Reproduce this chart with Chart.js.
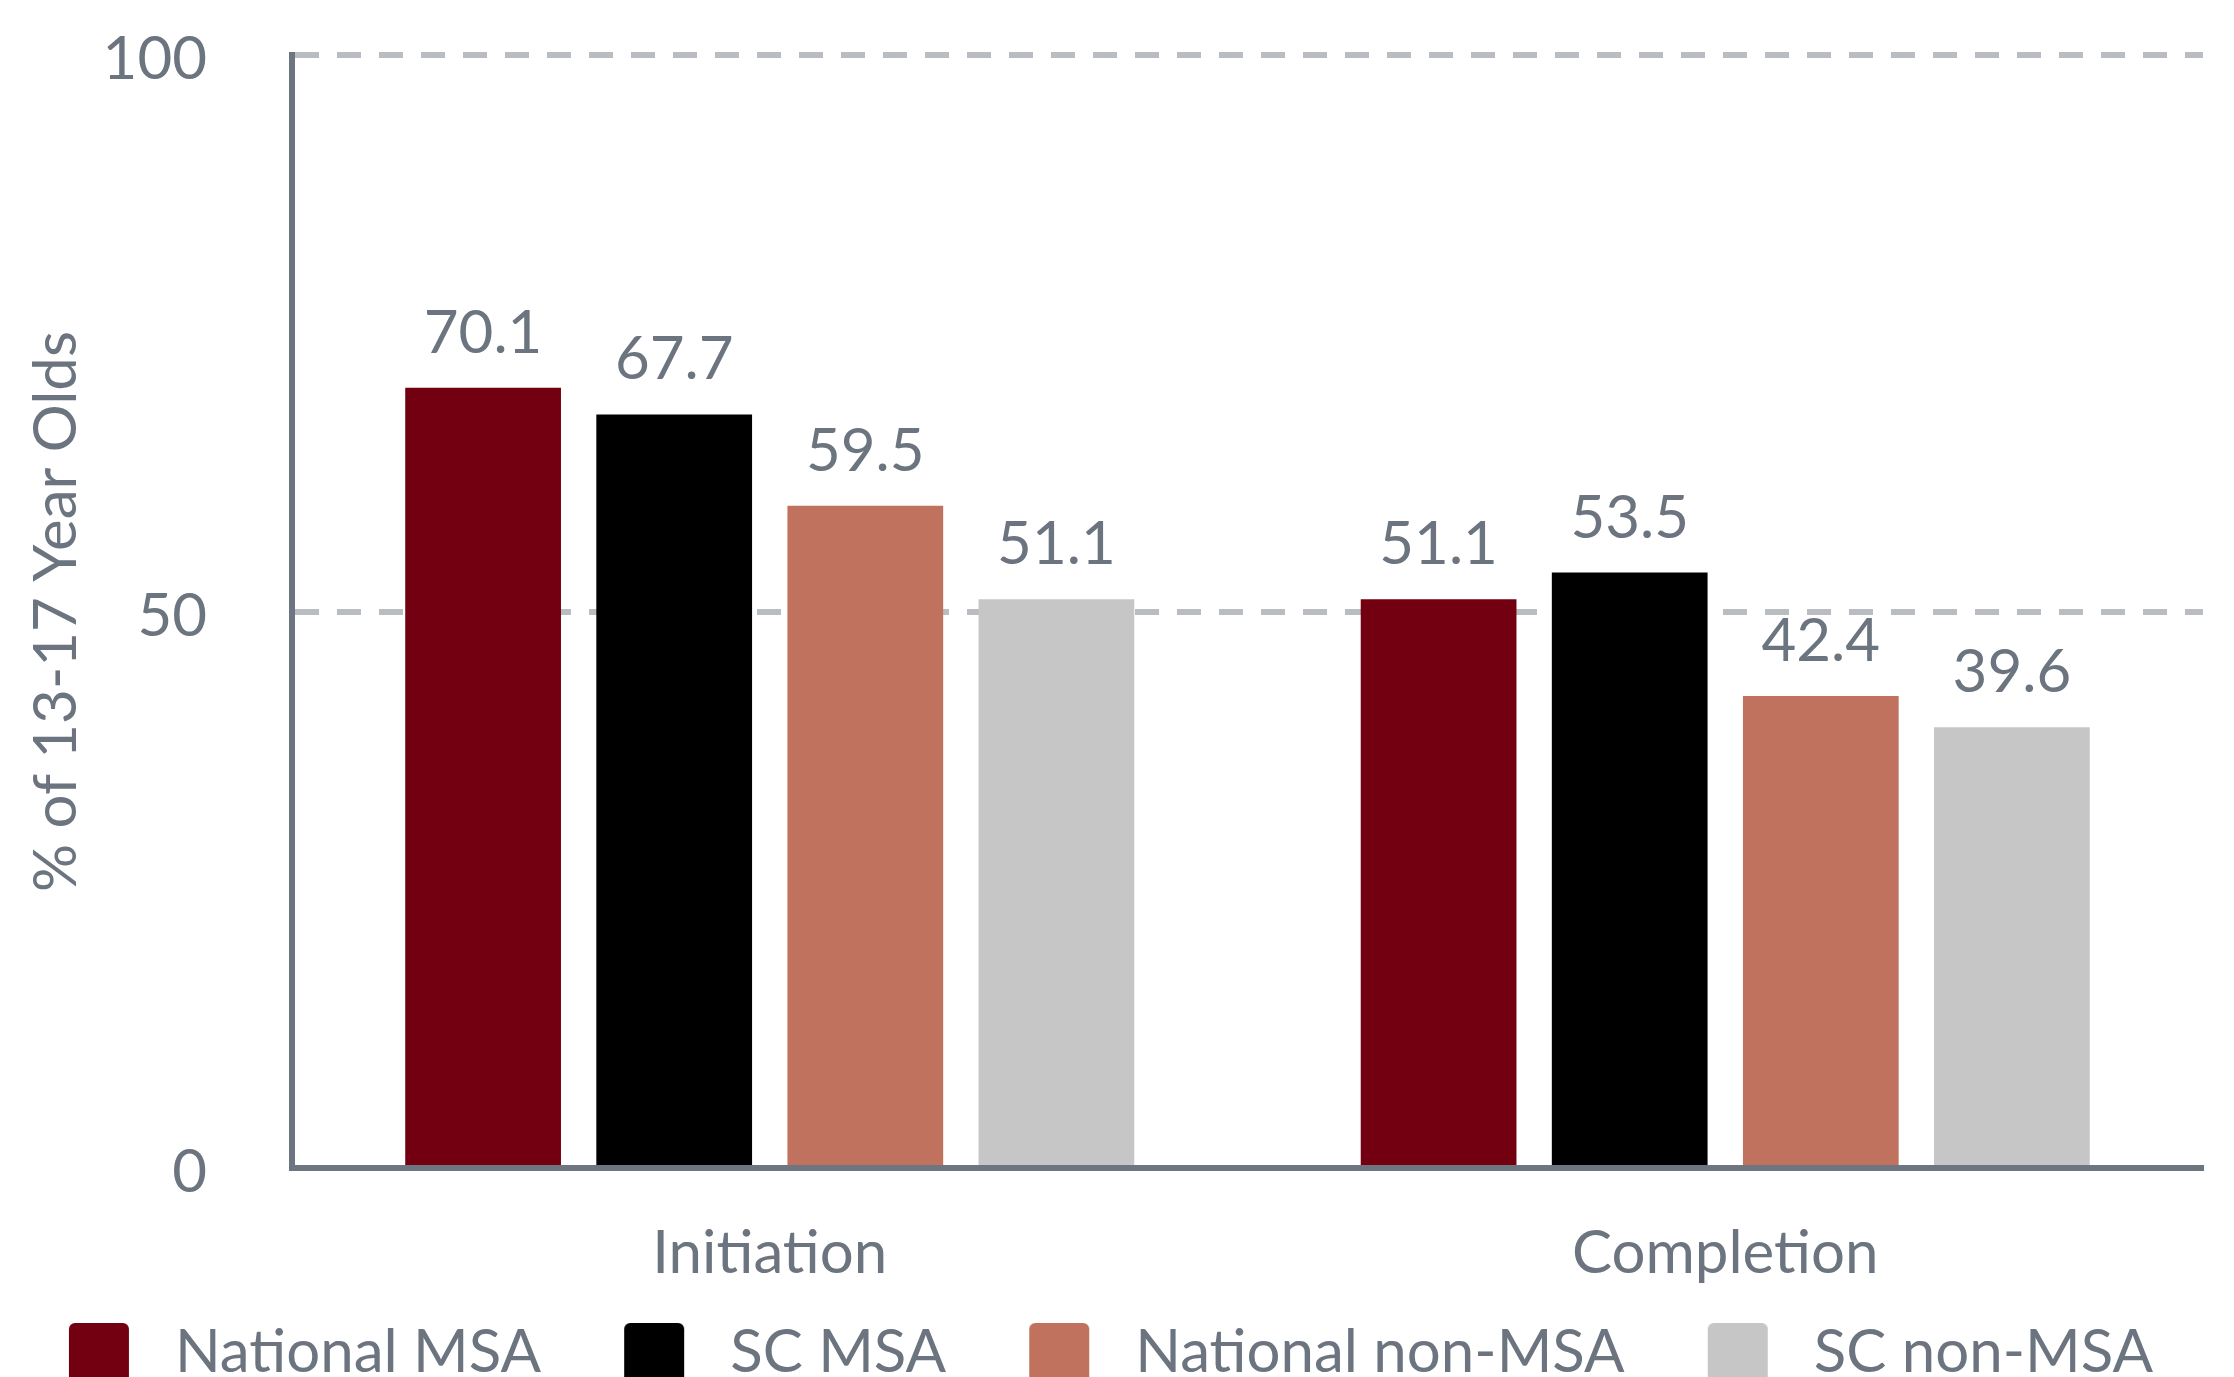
<!DOCTYPE html>
<html><head><meta charset="utf-8">
<script src="https://cdn.jsdelivr.net/npm/chart.js@4.4.0/dist/chart.umd.min.js"></script>
<style>html,body{margin:0;padding:0;background:#fff;overflow:hidden;width:2234px;height:1377px}canvas{display:block}</style>
</head><body><canvas id="c" width="2234" height="1383"></canvas>
<script>
const categories = ['Initiation', 'Completion'];
const seriesNames = ['National MSA', 'SC MSA', 'National non-MSA', 'SC non-MSA'];
const nationalMSA = [70.1, 51.1];
const scMSA = [67.7, 53.5];
const nationalNonMSA = [59.5, 42.4];
const scNonMSA = [51.1, 39.6];
const yTicks = [0, 50, 100];
const yTitle = '% of 13-17 Year Olds';

const colors = ['#730010', '#000000', '#c1725e', '#c6c6c6'];
const textColor = '#6c757f';
const axisColor = '#6c7580';
const gridColor = '#b9bcc1';

Chart.defaults.font.family = 'Lato';
Chart.defaults.color = textColor;

const SW_MARGIN = 63;
function swatch(color) {
  const c = document.createElement('canvas');
  c.width = SW_MARGIN + 76; c.height = 60;
  const x = c.getContext('2d');
  x.fillStyle = color;
  x.beginPath();
  if (x.roundRect) x.roundRect(SW_MARGIN, 0, 60, 60, 6); else x.rect(SW_MARGIN, 0, 60, 60);
  x.fill();
  return c;
}
const swatches = colors.map(swatch);

const valueLabels = {
  id: 'valueLabels',
  afterDatasetsDraw(chart) {
    const ctx = chart.ctx;
    ctx.save();
    ctx.font = '60px Lato';
    ctx.fillStyle = textColor;
    ctx.textAlign = 'center';
    ctx.textBaseline = 'alphabetic';
    chart.data.datasets.forEach((ds, i) => {
      const meta = chart.getDatasetMeta(i);
      meta.data.forEach((bar, j) => {
        ctx.fillText(ds.data[j].toFixed(1), bar.x, bar.y - 35);
      });
    });
    ctx.restore();
  }
};

const legendShift = {
  id: 'legendShift',
  afterLayout(chart) {
    const l = chart.legend;
    if (!l) return;
    l.top += 10; l.bottom += 10;
    l.left -= 22; l.right -= 22;
  }
};

const seriesData = [nationalMSA, scMSA, nationalNonMSA, scNonMSA];

new Chart(document.getElementById('c'), {
  type: 'bar',
  data: {
    labels: categories,
    datasets: seriesNames.map((name, i) => ({
      label: name,
      data: seriesData[i],
      backgroundColor: colors[i],
      borderWidth: 0,
      categoryPercentage: 0.8,
      barPercentage: 0.815
    }))
  },
  options: {
    responsive: false,
    animation: false,
    devicePixelRatio: 1,
    layout: { padding: { top: 55, right: 31, left: 0, bottom: 0 } },
    plugins: {
      tooltip: { enabled: false },
      legend: {
        position: 'bottom',
        labels: {
          usePointStyle: true,
          pointStyleWidth: SW_MARGIN + 76,
          boxHeight: 60,
          padding: 20,
          color: textColor,
          font: { size: 60, family: 'Lato' },
          generateLabels(chart) {
            const items = Chart.defaults.plugins.legend.labels.generateLabels(chart);
            items.forEach((it, i) => { it.pointStyle = swatches[i]; it.fontColor = textColor; });
            return items;
          }
        }
      }
    },
    scales: {
      x: {
        grid: { display: false, drawTicks: false },
        border: { display: true, color: axisColor, width: 6 },
        ticks: { font: { size: 60 }, color: textColor, padding: 50 },
        afterFit(s) { s.height = 125; }
      },
      y: {
        min: 0, max: 100,
        afterBuildTicks(s) { s.ticks = yTicks.map(v => ({ value: v })); },
        grid: {
          drawTicks: false,
          lineWidth: 6,
          color: (c) => (c.tick && c.tick.value === 0) ? 'rgba(0,0,0,0)' : gridColor
        },
        border: { display: true, color: axisColor, width: 6, dash: [24, 18] },
        ticks: { font: { size: 60 }, color: textColor, padding: 85, labelOffset: 5 },
        title: { display: true, text: yTitle, font: { size: 60 }, color: textColor, padding: { top: 21, bottom: 0 } },
        afterFit(s) { s.width = 292; s.paddingTop = 0; s.paddingBottom = 0; }
      }
    }
  },
  plugins: [valueLabels, legendShift]
});
</script>
</body></html>
